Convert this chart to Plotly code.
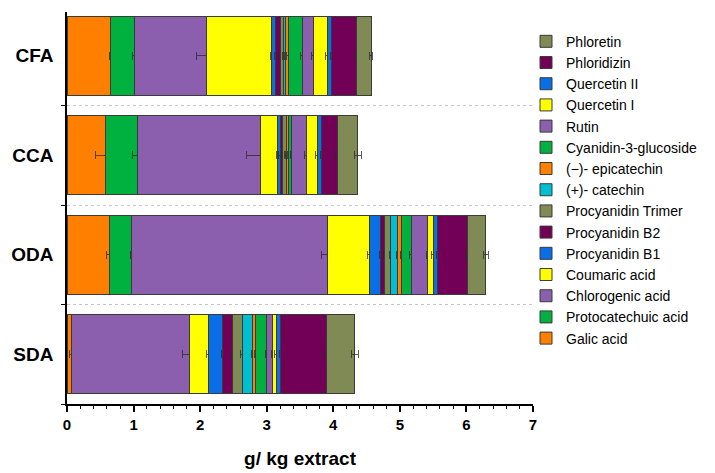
import plotly.graph_objects as go

categories = ["SDA", "ODA", "CCA", "CFA"]

compounds = ["Galic acid", "Protocatechuic acid", "Chlorogenic acid", "Coumaric acid",
             "Procyanidin B1", "Procyanidin B2", "Procyanidin Trimer", "(+)- catechin",
             "(\u2212)- epicatechin", "Cyanidin-3-glucoside", "Rutin", "Quercetin I",
             "Quercetin II", "Phloridizin", "Phloretin"]

colors = ["#FF8000", "#00B140", "#8B5FAD", "#FFFF00",
          "#0A6FE6", "#730057", "#7F8A55", "#00BFD0",
          "#FF8000", "#00B140", "#8B5FAD", "#FFFF00",
          "#0A6FE6", "#730057", "#7F8A55"]

# values per compound, order: SDA, ODA, CCA, CFA  (g/kg extract)
galic_acid          = [0.067, 0.64, 0.585, 0.66]
protocatechuic_acid = [0.005, 0.33, 0.475, 0.35]
chlorogenic_acid    = [1.77, 2.95, 1.84, 1.08]
coumaric_acid       = [0.29, 0.62, 0.26, 0.98]
procyanidin_b1      = [0.21, 0.17, 0.04, 0.06]
procyanidin_b2      = [0.14, 0.06, 0.04, 0.07]
procyanidin_trimer  = [0.15, 0.09, 0.05, 0.05]
catechin            = [0.16, 0.11, 0.01, 0.03]
epicatechin         = [0.04, 0.06, 0.03, 0.04]
cyanidin_3_glucoside= [0.17, 0.14, 0.04, 0.21]
rutin               = [0.09, 0.25, 0.23, 0.17]
quercetin_i         = [0.05, 0.08, 0.16, 0.21]
quercetin_ii        = [0.07, 0.07, 0.07, 0.07]
phloridizin         = [0.69, 0.45, 0.24, 0.37]
phloretin           = [0.42, 0.27, 0.30, 0.22]

values = [galic_acid, protocatechuic_acid, chlorogenic_acid, coumaric_acid,
          procyanidin_b1, procyanidin_b2, procyanidin_trimer, catechin,
          epicatechin, cyanidin_3_glucoside, rutin, quercetin_i,
          quercetin_ii, phloridizin, phloretin]

# standard deviations, same order
err_galic          = [0.03, 0.05, 0.15, 0.02]
err_protocatechuic = [0.0, 0.02, 0.07, 0.02]
err_chlorogenic    = [0.11, 0.10, 0.21, 0.14]
err_coumaric       = [0.03, 0.02, 0.02, 0.02]
err_b1             = [0.02, 0.02, 0.02, 0.02]
err_b2             = [0.02, 0.02, 0.02, 0.02]
err_trimer         = [0.02, 0.02, 0.02, 0.02]
err_catechin       = [0.02, 0.02, 0.02, 0.02]
err_epicatechin    = [0.02, 0.02, 0.02, 0.02]
err_cyanidin       = [0.02, 0.02, 0.02, 0.02]
err_rutin          = [0.02, 0.02, 0.03, 0.02]
err_quercetin_i    = [0.02, 0.02, 0.02, 0.02]
err_quercetin_ii   = [0.02, 0.02, 0.02, 0.02]
err_phloridizin    = [0.06, 0.04, 0.03, 0.02]
err_phloretin      = [0.05, 0.04, 0.05, 0.02]

errors = [err_galic, err_protocatechuic, err_chlorogenic, err_coumaric, err_b1,
          err_b2, err_trimer, err_catechin, err_epicatechin, err_cyanidin,
          err_rutin, err_quercetin_i, err_quercetin_ii, err_phloridizin, err_phloretin]

FONT = "Arial, Liberation Sans, sans-serif"

fig = go.Figure()
for name, vals, errs, col in zip(compounds, values, errors, colors):
    fig.add_trace(go.Bar(
        y=categories, x=vals, name=name, orientation="h",
        marker=dict(color=col, line=dict(color="#3a3a3a", width=1)),
        error_x=dict(type="data", array=errs, visible=True,
                     color="rgba(40,40,40,0.75)", thickness=1, width=4),
    ))

fig.update_layout(
    width=715, height=473,
    margin=dict(l=67, r=182, t=12, b=69, autoexpand=False),
    barmode="stack", bargap=0.21,
    plot_bgcolor="white", paper_bgcolor="white",
    font=dict(family=FONT, color="black"),
    legend=dict(
        traceorder="reversed", x=0.985, xanchor="left", y=0.965, yanchor="top",
        font=dict(size=14), tracegroupgap=0, bgcolor="rgba(0,0,0,0)",
    ),
    xaxis=dict(
        range=[0, 7], dtick=1, showline=True, linecolor="black", linewidth=1.5,
        ticks="outside", ticklen=6, tickwidth=1.5, tickcolor="black",
        tickfont=dict(size=15, family=FONT, weight="bold"),
        minor=dict(dtick=0.2, ticks="outside", ticklen=3, tickcolor="black", tickwidth=1),
        showgrid=False, zeroline=False, automargin=False,
        title=dict(text="<b>g/ kg extract</b>", font=dict(size=19), standoff=20),
    ),
    yaxis=dict(
        categoryorder="array", categoryarray=categories, range=[-0.5, 3.44],
        showline=True, linecolor="black", linewidth=1.5,
        ticks="outside", ticklen=4, tickcolor="black", tickson="boundaries",
        showgrid=True, gridcolor="#c8c8c8", griddash="dot", gridwidth=1,
        tickfont=dict(size=19), ticklabelstandoff=8, automargin=False,
        tickvals=categories, ticktext=["<b>%s</b>" % c for c in categories],
        zeroline=False,
    ),
)

fig.write_html("out.html")
